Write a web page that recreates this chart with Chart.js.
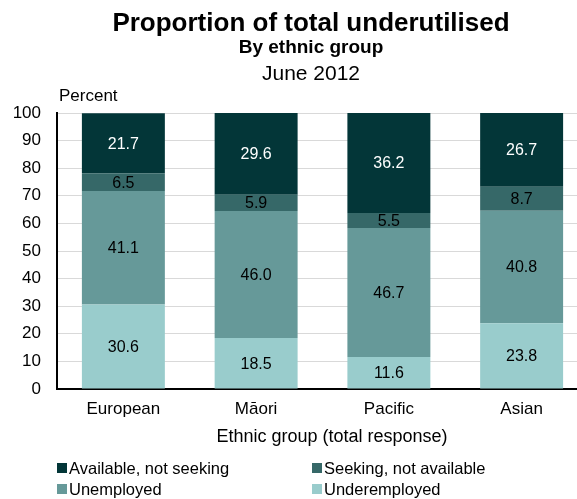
<!DOCTYPE html>
<html>
<head>
<meta charset="utf-8">
<script src="https://cdn.jsdelivr.net/npm/chart.js@4.4.1/dist/chart.umd.min.js"></script>
<style>
    html, body { margin: 0; padding: 0; background: #fff; overflow: hidden; }
    #wrap { width: 622px; height: 499px; }
</style>
</head>
<body>
<div id="wrap"><canvas id="underutilChart" width="622" height="499"></canvas></div>
<script>
// Категории и значения (проценты), снизу вверх по стопке
const groups = ['European', 'Māori', 'Pacific', 'Asian'];
const underemployed = [30.6, 18.5, 11.6, 23.8];
const unemployed = [41.1, 46.0, 46.7, 40.8];
const seekingNotAvailable = [6.5, 5.9, 5.5, 8.7];
const availableNotSeeking = [21.7, 29.6, 36.2, 26.7];
const yTicks = [0, 10, 20, 30, 40, 50, 60, 70, 80, 90, 100];

const FONT = "'Liberation Sans', Arial, sans-serif";

// Заголовки, подпись оси X, "Percent" и легенда в две колонки
const decorPlugin = {
    id: 'decor',
    afterDraw(chart) {
        const ctx = chart.ctx;
        const cx = chart.width / 2;
        ctx.save();
        ctx.fillStyle = '#000';
        ctx.textAlign = 'center';
        ctx.textBaseline = 'alphabetic';
        ctx.font = `bold 26px ${FONT}`;
        ctx.fillText('Proportion of total underutilised', cx, 31);
        ctx.font = `bold 19px ${FONT}`;
        ctx.fillText('By ethnic group', cx, 53);
        ctx.font = `21px ${FONT}`;
        ctx.fillText('June 2012', cx, 80);

        ctx.textAlign = 'left';
        ctx.font = `17px ${FONT}`;
        ctx.fillText('Percent', 59, 101);

        ctx.textAlign = 'center';
        ctx.font = `18px ${FONT}`;
        ctx.fillText('Ethnic group (total response)', 332, 442);

        // легенда: порядок сверху вниз по стопке
        const items = chart.data.datasets.slice().reverse();
        const cols = [57, 312];
        const rows = [474, 495];
        ctx.font = `16.5px ${FONT}`;
        ctx.textAlign = 'left';
        items.forEach((ds, i) => {
            const x = cols[i % 2];
            const y = rows[Math.floor(i / 2)];
            ctx.fillStyle = ds.backgroundColor;
            ctx.fillRect(x, y - 11, 10, 10);
            ctx.fillStyle = '#000';
            ctx.fillText(ds.label, x + 12, y);
        });
        ctx.restore();
    }
};

// Значения внутри сегментов
const valueLabels = {
    id: 'valueLabels',
    afterDatasetsDraw(chart) {
        const ctx = chart.ctx;
        ctx.save();
        ctx.font = `16px ${FONT}`;
        ctx.textAlign = 'center';
        ctx.textBaseline = 'middle';
        chart.data.datasets.forEach((ds, di) => {
            const meta = chart.getDatasetMeta(di);
            meta.data.forEach((bar, i) => {
                ctx.fillStyle = ds.labelColor;
                ctx.fillText(ds.data[i].toFixed(1), bar.x, (bar.y + bar.base) / 2 + 1);
            });
        });
        ctx.restore();
    }
};

const canvas = document.getElementById('underutilChart');
const ctx = canvas.getContext('2d');

new Chart(ctx, {
    type: 'bar',
    data: {
        labels: groups,
        datasets: [
            { label: 'Underemployed', data: underemployed, backgroundColor: '#99cccc', labelColor: '#000' },
            { label: 'Unemployed', data: unemployed, backgroundColor: '#669999', labelColor: '#000' },
            { label: 'Seeking, not available', data: seekingNotAvailable, backgroundColor: '#366868', labelColor: '#000' },
            { label: 'Available, not seeking', data: availableNotSeeking, backgroundColor: '#033638', labelColor: '#fff' }
        ]
    },
    options: {
        responsive: false,
        animation: false,
        events: [],
        layout: {
            padding: { top: 113, right: 34, bottom: 0, left: 0 }
        },
        datasets: {
            bar: { barPercentage: 0.625, categoryPercentage: 1 }
        },
        plugins: {
            legend: { display: false },
            title: { display: false },
            tooltip: { enabled: false }
        },
        scales: {
            x: {
                stacked: true,
                grid: { display: false, drawTicks: false },
                border: { display: true, color: '#000', width: 2 },
                ticks: {
                    color: '#000',
                    padding: 10,
                    font: { family: FONT, size: 17 }
                },
                afterFit(scale) { scale.height = 110; }
            },
            y: {
                stacked: true,
                min: 0,
                max: 100,
                afterBuildTicks(scale) {
                    scale.ticks = yTicks.map(v => ({ value: v }));
                },
                grid: { color: '#d9d9d9', lineWidth: 1, drawTicks: false },
                border: { display: true, color: '#000', width: 2 },
                ticks: {
                    color: '#000',
                    padding: 16,
                    font: { family: FONT, size: 17 }
                },
                afterFit(scale) { scale.width = 57; }
            }
        }
    },
    plugins: [valueLabels, decorPlugin]
});
</script>
</body>
</html>
